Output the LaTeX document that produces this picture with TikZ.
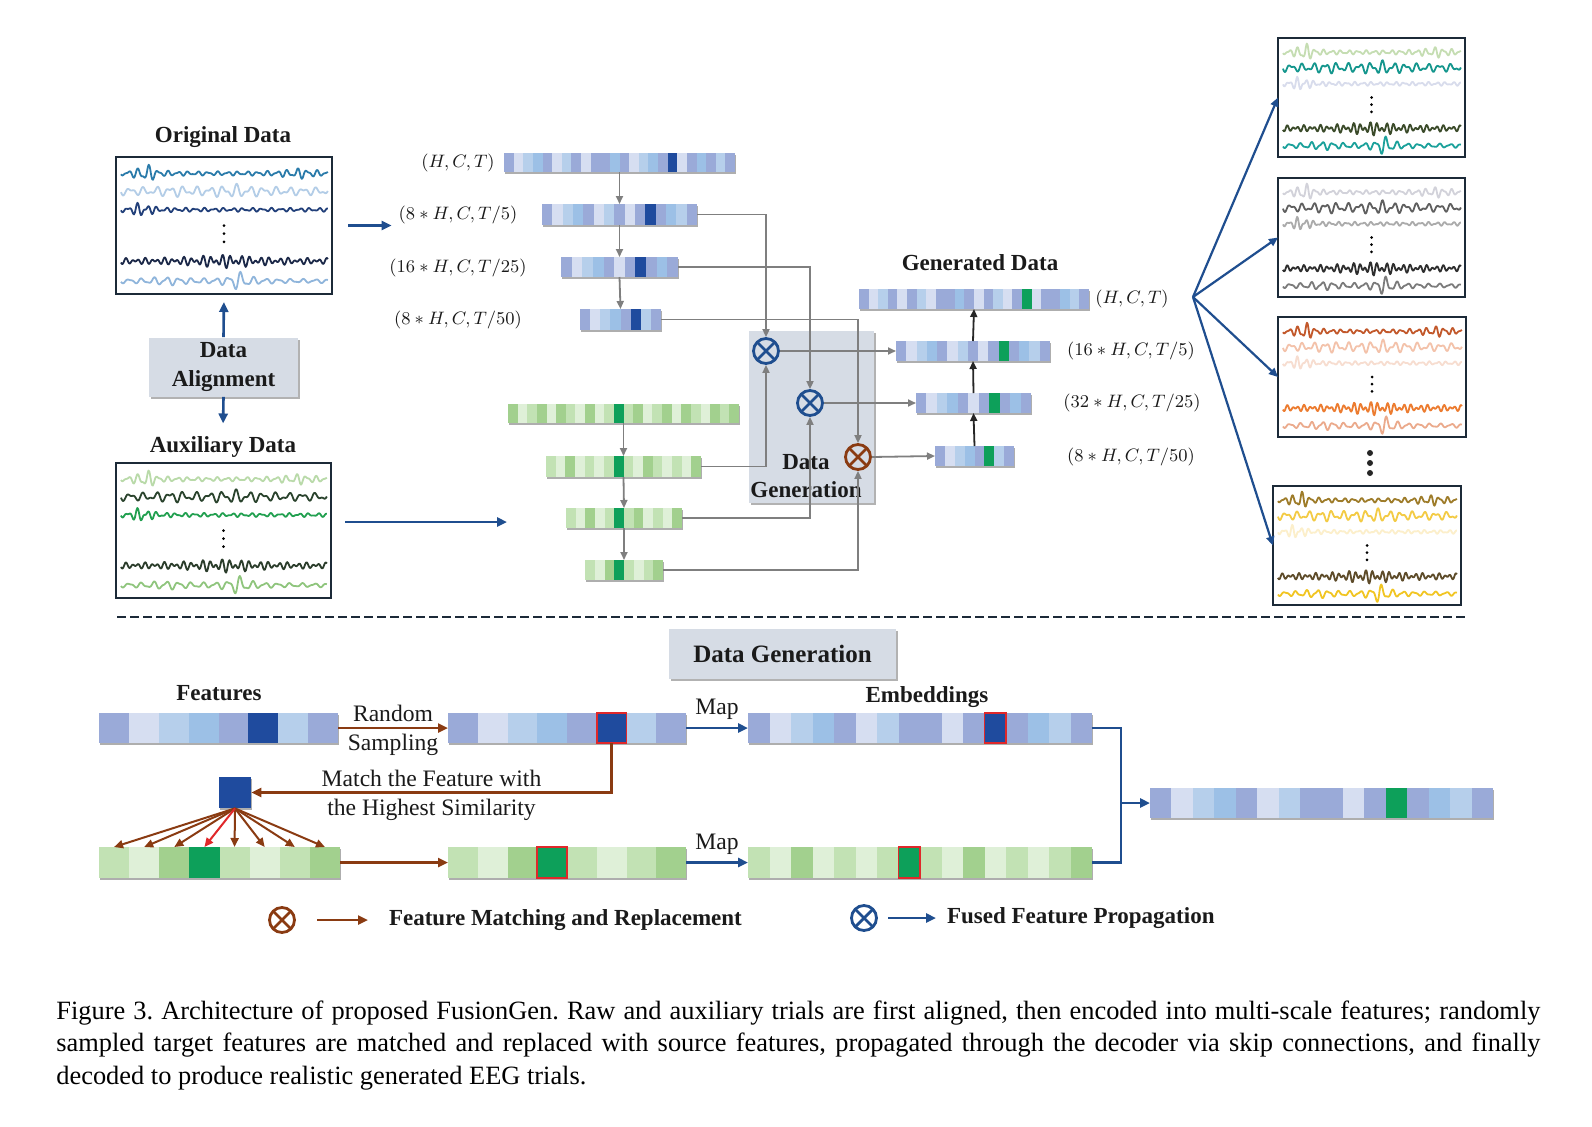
\documentclass[tikz,border=0pt]{standalone}
\usepackage{fontspec}
\setmainfont{Liberation Serif}
\usetikzlibrary{arrows.meta,fit,shadows,calc}

\definecolor{navy}{HTML}{1F4E8F}
\definecolor{brn}{HTML}{8A3B12}
\definecolor{grayline}{HTML}{7F7F7F}
\definecolor{framec}{HTML}{1C2A38}
\definecolor{boxfill}{HTML}{D6DCE5}
\definecolor{txt}{HTML}{1A1A1A}
\definecolor{pa}{HTML}{9AAAD8}
\definecolor{pv}{HTML}{D6DEF1}
\definecolor{pl}{HTML}{B6CFEB}
\definecolor{ps}{HTML}{9CC0E6}
\definecolor{pd}{HTML}{1F4B9E}
\definecolor{ga}{HTML}{A2D08E}
\definecolor{gv}{HTML}{DFF0D8}
\definecolor{gl}{HTML}{C2E2B4}
\definecolor{gd}{HTML}{0DA05A}
\definecolor{redc}{HTML}{E0282A}
% eeg colours
\definecolor{o1}{HTML}{2A7BAA}\definecolor{o2}{HTML}{B3CDE7}\definecolor{o3}{HTML}{22407A}\definecolor{o4}{HTML}{1B2848}\definecolor{o5}{HTML}{8FB5DB}
\definecolor{a1}{HTML}{B9DAA9}\definecolor{a2}{HTML}{2A432D}\definecolor{a3}{HTML}{22A050}\definecolor{a4}{HTML}{2B3D2B}\definecolor{a5}{HTML}{8FC57D}
\definecolor{q1}{HTML}{C5DDB2}\definecolor{q2}{HTML}{14968D}\definecolor{q3}{HTML}{D8DCEC}\definecolor{q4}{HTML}{3B4B2A}\definecolor{q5}{HTML}{1BA19B}
\definecolor{r1}{HTML}{D2D2DA}\definecolor{r2}{HTML}{5F5F5F}\definecolor{r3}{HTML}{ABABAB}\definecolor{r4}{HTML}{2E2E2E}\definecolor{r5}{HTML}{7B7B7B}
\definecolor{s1}{HTML}{C2582B}\definecolor{s2}{HTML}{F3C2AA}\definecolor{s3}{HTML}{F7DDD0}\definecolor{s4}{HTML}{EC7C30}\definecolor{s5}{HTML}{EBAA8C}
\definecolor{t1}{HTML}{9E7C2A}\definecolor{t2}{HTML}{F3CB45}\definecolor{t3}{HTML}{FCEFCB}\definecolor{t4}{HTML}{5E4C2A}\definecolor{t5}{HTML}{F1C522}

\pgfmathdeclarefunction{bump}{3}{\begingroup\pgfmathparse{1/(1+((#1-#2)/#3)*((#1-#2)/#3))}\pgfmathsmuggle\pgfmathresult\endgroup}
\newcommand\wvA{(2+9*bump(\wt,0.12,0.035)+3.8*bump(\wt,0.86,0.07))*(0.65*sin(7500*\wt)+0.35*sin(12000*\wt+60))}
\newcommand\wvB{(4.2+3.4*bump(\wt,0.55,0.08)+2*bump(\wt,0.25,0.05))*(0.6*sin(5600*\wt+20)+0.4*sin(9500*\wt))}
\newcommand\wvC{(2+6.5*bump(\wt,0.1,0.04))*(0.6*sin(7800*\wt)+0.4*sin(12200*\wt+30))}
\newcommand\wvD{(2.9+4.3*bump(\wt,0.5,0.15))*(0.55*sin(11500*\wt)+0.45*sin(7800*\wt+70))}
\newcommand\wvE{(2+8*bump(\wt,0.57,0.045)+2.7*bump(\wt,0.22,0.08))*(0.7*sin(6000*\wt+30)+0.3*sin(10500*\wt))}

\newcommand{\eegwave}[5]{\draw[#4, line width=0.9pt, line join=round] plot[domain=0:1, samples=240, smooth, variable=\wt] ({#1+\wt*(#2-#1)}, {#3+\csname wv#5\endcsname});}

\newcommand{\eegpanel}[6]{%
 \node[fit={(#2,#3) (#4,#5)}, inner sep=0, outer sep=0, draw=framec, line width=1pt, fill=white] (#1) {};
 \pgfmathsetmacro\eH{#5-#3}
 \pgfmathsetmacro\exa{#2+5}
 \pgfmathsetmacro\exb{#4-4}
 \pgfmathsetmacro\exm{(#2+#4)/2}
 \pgfmathsetmacro\eya{#3+0.12*\eH}
 \pgfmathsetmacro\eyb{#3+0.25*\eH}
 \pgfmathsetmacro\eyc{#3+0.385*\eH}
 \pgfmathsetmacro\eyd{#3+0.76*\eH}
 \pgfmathsetmacro\eye{#3+0.905*\eH}
 \eegwave{\exa}{\exb}{\eya}{#61}{A}
 \eegwave{\exa}{\exb}{\eyb}{#62}{B}
 \eegwave{\exa}{\exb}{\eyc}{#63}{C}
 \eegwave{\exa}{\exb}{\eyd}{#64}{D}
 \eegwave{\exa}{\exb}{\eye}{#65}{E}
 \foreach \fr in {0.5,0.56,0.62} \fill[black] (\exm, {#3+\fr*\eH}) circle[radius=0.75pt];
}

\newcommand{\cellbar}[6]{%
 \node[fit={(#2,#3) (#4,#5)}, inner sep=0, outer sep=0, fill=white, barshadow] (#1) {};
 \foreach \cc [count=\nn] in {#6} {\xdef\ncells{\nn}}
 \pgfmathsetmacro\cellw{(#4-#2)/\ncells}
 \foreach \cc [count=\ii from 0] in {#6} {
   \pgfmathsetmacro\xl{#2+\ii*\cellw}
   \pgfmathsetmacro\xr{#2+(\ii+1)*\cellw}
   \pgfmathtruncatemacro\jj{\ii+1}
   \node[fit={(\xl,#3) (\xr,#5)}, inner sep=0, outer sep=0, fill=\cc] (#1-\jj) {};
 }
}

\tikzset{
 x=0.5pt, y=-0.5pt,
 lbl/.style={font=\fontsize{11.5}{14}\selectfont\bfseries, text=txt},
 dimlbl/.style={font=\fontsize{9.5}{11}\selectfont, text=txt},
 ptxt/.style={font=\fontsize{11.8}{13}\selectfont, text=txt, inner sep=1pt},
 gshadow/.style={drop shadow={shadow xshift=1.2pt, shadow yshift=-1.2pt, opacity=0.3, fill=black}},
 barshadow/.style={drop shadow={shadow xshift=0.4pt, shadow yshift=-0.9pt, opacity=0.45, fill=black!70}},
 garrow/.style={draw=grayline, line width=0.9pt, -{Triangle[length=4pt,width=3.5pt]}},
 karrow/.style={draw=black!85, line width=0.9pt, -{Triangle[length=4pt,width=3.5pt]}},
 navyarrow/.style={draw=navy, line width=1.3pt, -{Triangle[length=5pt,width=4.5pt]}},
 navyline/.style={draw=navy, line width=1.3pt},
 fanarrow/.style={draw=navy, line width=1.1pt, -{Triangle[length=4.5pt,width=4pt]}},
 brownarrow/.style={draw=brn, line width=1.2pt, -{Triangle[length=5pt,width=4.5pt]}},
 fanbrown/.style={draw=brn, line width=1pt, -{Triangle[length=4.5pt,width=4pt]}},
 fanred/.style={draw=redc, line width=1pt, -{Triangle[length=4.5pt,width=4pt]}},
 otimes/.style={circle, draw=#1, line width=1.4pt, minimum size=12.5pt, inner sep=0pt,
   path picture={\draw[#1, line width=1.4pt] (path picture bounding box.north west) -- (path picture bounding box.south east) (path picture bounding box.north east) -- (path picture bounding box.south west);}},
}

\begin{document}
\begin{tikzpicture}
\fill[white] (0,0) rectangle (1592,1126);
\useasboundingbox (0,0) rectangle (1592,1126);

% ---------- input panels ----------
\node[lbl] (torig) at (223,137) {Original Data};
\eegpanel{orig}{116}{157}{332}{294}{o}
\node[lbl] (taux) at (223,447) {Auxiliary Data};
\eegpanel{aux}{116}{463}{331}{598}{a}
\node[lbl, align=center, fill=boxfill, gshadow, minimum width=74.5pt, minimum height=29.5pt, inner sep=0] (align) at (223.5,367) {Data\\Alignment};
\draw[navyarrow, shorten >=4pt] (align.north) -- (orig.south);
\draw[navyarrow, shorten >=3pt] (align.south) -- (taux.north);

% ---------- encoder (original) ----------
\cellbar{e1}{504}{153}{735}{172}{pa,pv,pl,ps,pa,pv,pl,pa,pv,pa,pa,ps,pa,pv,pl,ps,pa,pd,pv,pa,ps,pa,pl,pa}
\cellbar{e2}{542}{204}{697}{225}{pa,pv,pl,ps,pa,pv,pl,pa,pv,pa,pd,pa,ps,pl,pa}
\cellbar{e3}{561}{257}{678}{277}{pa,pv,pl,ps,pa,pv,pa,pd,pa,ps,pa}
\cellbar{e4}{580}{309}{661}{330}{pa,pv,pl,ps,pa,pd,pl,pa}
\node[dimlbl] (l1) at (458,163) {$(H,C,T)$};
\node[dimlbl] (l2) at (458,215) {$(8*H,C,T/5)$};
\node[dimlbl] (l3) at (458,268) {$(16*H,C,T/25)$};
\node[dimlbl] (l4) at (458,320) {$(8*H,C,T/50)$};
\draw[garrow] (e1.south) -- (e2.north);
\draw[garrow] (e2.south) -- (e3.north);
\draw[garrow] (e3.south) -- (e4.north);
\draw[navyarrow, shorten <=8pt] (orig.east) -- (orig.east -| l2.west);

% ---------- encoder (auxiliary) ----------
\cellbar{g1}{508}{404}{739}{423}{ga,gv,gl,ga,gv,ga,gl,gv,ga,gv,gl,gd,gl,ga,gv,gl,ga,gv,ga,gl,gv,ga,gl,ga}
\cellbar{g2}{546}{456}{701}{477}{gl,gv,ga,gv,gl,gv,gl,gd,gl,gv,ga,gl,gv,gl,gv,ga}
\cellbar{g3}{566}{508}{682}{528}{gl,gv,ga,gv,gl,gd,gl,ga,gv,gl,gv,ga}
\cellbar{g4}{585}{560}{663}{580}{gl,gv,ga,gd,gl,gv,gl,ga}
\draw[garrow] (g1.south) -- (g2.north);
\draw[garrow] (g2.south) -- (g3.north);
\draw[garrow] (g3.south) -- (g4.north);
\coordinate (auxin) at (507,522);
\draw[navyarrow, shorten <=7pt] (aux.east |- auxin) -- (auxin);

% ---------- data generation block ----------
\node[fit={(749,331) (874,503)}, inner sep=0, fill=boxfill, gshadow] (dgbox) {};
\node[lbl, align=center] (dgtxt) at (806,476) {Data\\Generation};
\node[otimes=navy] (m1) at (766,351) {};
\node[otimes=navy] (m2) at (810,403) {};
\node[otimes=brn] (m3) at (858,457) {};
\draw[garrow] (e2.east) -| (m1.north);
\draw[garrow] (e3.east) -| (m2.north);
\draw[garrow] (e4.east) -| (m3.north);
\draw[garrow] (g2.east) -| (m1.south);
\draw[garrow] (g3.east) -| (m2.south);
\draw[garrow] (g4.east) -| (m3.south);

% ---------- decoder ----------
\node[lbl] (tgen) at (980,263) {Generated Data};
\cellbar{d1}{859}{289}{1089}{309}{pa,pv,pl,pa,pv,pa,pl,pv,pa,pa,ps,pa,pv,pa,pl,pv,pa,gd,pv,pa,pa,ps,pl,pa}
\cellbar{d2}{896}{341}{1050}{361}{pa,pv,pl,ps,pa,pv,pl,pa,pv,pa,gd,pa,ps,pl,pa}
\cellbar{d3}{916}{393}{1031}{413}{pa,pv,pl,ps,pa,pv,pa,gd,pa,ps,pa}
\cellbar{d4}{935}{446}{1014}{466}{pa,pv,pl,ps,pa,gd,pl,pa}
\node[dimlbl] (r1) at (1132,299) {$(H,C,T)$};
\node[dimlbl] (r2) at (1131,351) {$(16*H,C,T/5)$};
\node[dimlbl] (r3) at (1132,403) {$(32*H,C,T/25)$};
\node[dimlbl] (r4) at (1131,457) {$(8*H,C,T/50)$};
\draw[karrow] (d4.north) -- (d3.south);
\draw[karrow] (d3.north) -- (d2.south);
\draw[karrow] (d2.north) -- (d1.south);
\draw[garrow] (m1.east) -- (d2.west);
\draw[garrow] (m2.east) -- (d3.west);
\draw[garrow] (m3.east) -- (d4.west);

% ---------- generated panels ----------
\eegpanel{p1}{1278}{38}{1465}{157}{q}
\eegpanel{p2}{1278}{178}{1465}{297}{r}
\eegpanel{p3}{1278}{317}{1466}{437}{s}
\eegpanel{p4}{1273}{486}{1461}{605}{t}
\foreach \yy in {453,463,473} \fill[black!85] (1370,\yy) circle[radius=1.5pt];
\coordinate (fan) at (1193,297);
\foreach \p in {p1,p2,p3,p4} \draw[fanarrow] (fan) -- (\p.west);

% ---------- separator ----------
\coordinate (dsl) at (117,617);
\coordinate (dsr) at (1467,617);
\draw[framec, line width=1pt, dash pattern=on 4.5pt off 2pt] (dsl) -- (dsr);

% ---------- bottom: data generation detail ----------
\node[fit={(669,629) (896,679)}, inner sep=0, fill=boxfill, gshadow] (dghead) {};
\node[font=\fontsize{12.5}{14}\selectfont\bfseries, text=txt] (dgheadtxt) at (dghead.center) {Data Generation};
\node[lbl] (tfeat) at (219,693) {Features};
\node[lbl] (temb) at (927,697) {Embeddings};

\cellbar{feat}{99}{713}{338}{743}{pa,pv,pl,ps,pa,pd,pl,pa}
\cellbar{samp}{448}{713}{686}{743}{pa,pv,pl,ps,pa,pd,pl,pa}
\cellbar{emb1}{748}{713}{1092}{743}{pa,pv,pl,ps,pa,pv,pl,pa,pa,pv,pa,pd,pa,ps,pl,pa}
\cellbar{res}{1150}{788}{1493}{818}{pa,pv,pl,ps,pa,pv,pl,pa,pa,pv,pa,gd,pa,ps,pl,pa}
\cellbar{gsrc}{99}{847}{340}{878}{gl,gv,ga,gd,gl,gv,gl,ga}
\cellbar{gsamp}{448}{847}{686}{878}{gl,gv,ga,gd,gl,gv,gl,ga}
\cellbar{emb2}{748}{847}{1092}{878}{gl,gv,ga,gv,gl,gv,gl,gd,gl,gv,ga,gv,gl,gv,gl,ga}
\foreach \c in {samp-6,emb1-12,gsamp-4,emb2-8}
  \draw[redc, line width=0.9pt] (\c.north west) rectangle (\c.south east);
\node[fit={(219,777) (251,808)}, inner sep=0, fill=pd, barshadow] (sq) {};

\draw[brownarrow] (feat.east) -- (samp.west)
  node[midway, above=1.5pt, ptxt] {Random}
  node[midway, below=1.5pt, ptxt] {Sampling};
\draw[navyarrow] (samp.east) -- (emb1.west) node[midway, above=2.5pt, ptxt] {Map};
\draw[brownarrow] (samp-6.south) |- (sq.east)
  node[pos=0.75, above=1.5pt, ptxt] {Match the Feature with}
  node[pos=0.75, below=1.5pt, ptxt] {the Highest Similarity};
\foreach \i in {1,2,3,5,6,7,8} \draw[fanbrown] (sq.south) -- (gsrc-\i.north);
\draw[fanred] (sq.south) -- (gsrc-4.north);
\draw[brownarrow] (gsrc.east) -- (gsamp.west);
\draw[navyarrow] (gsamp.east) -- (emb2.west) node[midway, above=2.5pt, ptxt] {Map};
\coordinate (junc) at (1121,803);
\draw[navyline] (emb1.east) -| (junc);
\draw[navyline] (emb2.east) -| (junc);
\draw[navyarrow] (junc) -- (res.west);

% ---------- legend ----------
\node[otimes=brn] (lg1) at (282,920) {};
\coordinate (lg1a) at (317,920);
\coordinate (lg1b) at (368,920);
\draw[brownarrow] (lg1a) -- (lg1b);
\node[lbl, anchor=west] (lg1t) at (382,920) {Feature Matching and Replacement};
\node[otimes=navy] (lg2) at (864,918) {};
\coordinate (lg2a) at (888,918);
\coordinate (lg2b) at (936,918);
\draw[navyarrow] (lg2a) -- (lg2b);
\node[lbl, anchor=west] (lg2t) at (940,918) {Fused Feature Propagation};

% ---------- caption ----------
\node[anchor=north west, text width=742pt, align=justify, inner sep=0, text=black,
      font=\fontsize{13.2}{16.25}\selectfont] (cap) at (56,1000)
 {\frenchspacing Figure 3. Architecture of proposed FusionGen. Raw and auxiliary trials are first aligned, then encoded into multi-scale features; randomly\linebreak
 sampled target features are matched and replaced with source features, propagated through the decoder via skip connections, and finally\linebreak
 decoded to produce realistic generated EEG trials.};
\end{tikzpicture}
\end{document}
